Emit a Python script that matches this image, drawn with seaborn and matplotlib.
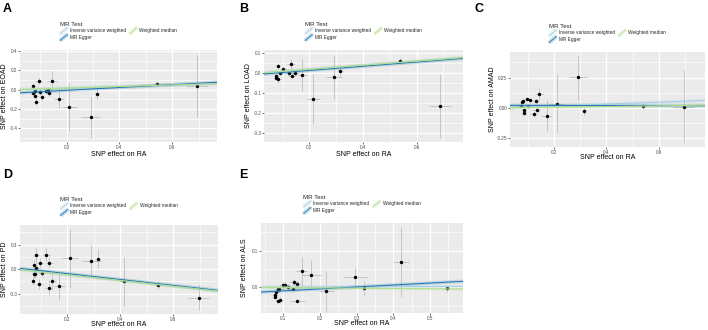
import numpy as np
import pandas as pd
import matplotlib
matplotlib.use("Agg")
import matplotlib.pyplot as plt
from matplotlib.lines import Line2D
from matplotlib.legend_handler import HandlerBase
from matplotlib.ticker import AutoMinorLocator
import seaborn as sns

# ---------------- data ----------------
method_names = ["Inverse variance weighted", "MR Egger", "Weighted median"]
method_colors = ["#a6cee3", "#1f78b4", "#b2df8a"]

panel_letters = ["A", "B", "C", "D", "E"]
outcomes = ["EOAD", "LOAD", "AMAD", "PD", "ALS"]
exposure_label = "SNP effect on RA"

A_x = [0.071, 0.094, 0.144, 0.071, 0.079, 0.081, 0.084, 0.098, 0.107, 0.122, 0.129, 0.133, 0.171, 0.210, 0.291, 0.314, 0.541, 0.694]
A_y = [0.038, 0.093, 0.093, -0.035, -0.017, -0.066, -0.125, -0.024, -0.073, -0.017, 0.000, -0.031, -0.093, -0.180, -0.284, -0.045, 0.055, 0.042]
A_sex = [0.008, 0.013, 0.019, 0.008, 0.008, 0.009, 0.009, 0.010, 0.011, 0.012, 0.013, 0.013, 0.020, 0.028, 0.035, 0.008, 0.010, 0.040]
A_sey = [0.03, 0.03, 0.10, 0.03, 0.03, 0.03, 0.035, 0.03, 0.03, 0.03, 0.03, 0.03, 0.10, 0.25, 0.21, 0.05, 0.02, 0.32]

B_x = [0.082, 0.133, 0.101, 0.075, 0.076, 0.084, 0.091, 0.123, 0.135, 0.148, 0.173, 0.214, 0.292, 0.316, 0.539, 0.688]
B_y = [0.038, 0.047, 0.022, -0.013, -0.022, -0.030, 0.003, 0.003, -0.012, 0.002, -0.008, -0.130, -0.018, 0.010, 0.060, -0.162]
B_sex = [0.009, 0.015, 0.011, 0.008, 0.008, 0.009, 0.010, 0.012, 0.013, 0.015, 0.020, 0.024, 0.030, 0.008, 0.010, 0.040]
B_sey = [0.015, 0.025, 0.010, 0.010, 0.010, 0.020, 0.010, 0.010, 0.010, 0.010, 0.080, 0.125, 0.110, 0.030, 0.015, 0.160]

C_x = [0.073, 0.080, 0.082, 0.096, 0.100, 0.108, 0.085, 0.086, 0.123, 0.132, 0.134, 0.144, 0.172, 0.211, 0.291, 0.316, 0.540, 0.694]
C_y = [0.019, 0.049, 0.055, 0.072, 0.014, 0.063, -0.014, -0.044, -0.050, 0.058, -0.017, 0.115, -0.063, 0.036, 0.252, -0.028, 0.019, 0.011]
C_sex = [0.008, 0.009, 0.009, 0.010, 0.010, 0.011, 0.009, 0.009, 0.012, 0.013, 0.013, 0.015, 0.022, 0.030, 0.035, 0.008, 0.010, 0.040]
C_sey = [0.010, 0.012, 0.012, 0.010, 0.012, 0.012, 0.015, 0.015, 0.020, 0.020, 0.020, 0.050, 0.126, 0.240, 0.185, 0.030, 0.025, 0.300]

D_x = [0.082, 0.121, 0.074, 0.083, 0.097, 0.132, 0.074, 0.079, 0.104, 0.069, 0.093, 0.143, 0.130, 0.170, 0.211, 0.291, 0.314, 0.415, 0.542, 0.696]
D_y = [0.167, 0.176, 0.049, 0.016, 0.078, 0.078, -0.061, -0.061, -0.053, -0.147, -0.188, -0.151, -0.233, -0.204, 0.131, 0.098, 0.127, -0.151, -0.192, -0.351]
D_sex = [0.009, 0.012, 0.008, 0.009, 0.010, 0.013, 0.008, 0.008, 0.011, 0.008, 0.010, 0.015, 0.013, 0.020, 0.030, 0.035, 0.010, 0.020, 0.010, 0.040]
D_sey = [0.09, 0.08, 0.06, 0.05, 0.06, 0.07, 0.05, 0.05, 0.05, 0.05, 0.06, 0.11, 0.08, 0.17, 0.36, 0.20, 0.12, 0.30, 0.05, 0.15]

E_x = [0.076, 0.076, 0.081, 0.085, 0.089, 0.086, 0.090, 0.099, 0.104, 0.112, 0.126, 0.129, 0.136, 0.138, 0.150, 0.176, 0.217, 0.296, 0.320, 0.421, 0.547]
E_y = [-0.022, -0.026, -0.013, -0.006, -0.006, -0.037, -0.035, 0.005, 0.007, 0.002, -0.005, 0.014, 0.010, -0.036, 0.043, 0.034, -0.011, 0.028, -0.003, 0.068, -0.003]
E_sex = [0.008, 0.008, 0.008, 0.009, 0.009, 0.009, 0.010, 0.010, 0.011, 0.012, 0.012, 0.013, 0.013, 0.020, 0.015, 0.028, 0.020, 0.032, 0.008, 0.023, 0.010]
E_sey = [0.005, 0.005, 0.005, 0.008, 0.008, 0.006, 0.008, 0.010, 0.008, 0.006, 0.006, 0.008, 0.008, 0.005, 0.040, 0.040, 0.055, 0.025, 0.020, 0.095, 0.010]

# MR estimates: intercepts and slopes per method (IVW, MR Egger, WM)
A_int = [0.0, -0.035, 0.0]; A_slope = [0.078, 0.145, 0.082]
B_int = [0.0, -0.006, 0.0]; B_slope = [0.098, 0.105, 0.102]
C_int = [0.0, 0.022, 0.0];  C_slope = [0.080, -0.004, 0.030]
D_int = [0.0, 0.015, 0.0];  D_slope = [-0.340, -0.360, -0.350]
E_int = [0.0, -0.015, 0.0]; E_slope = [0.004, 0.053, -0.008]

# axis ticks and limits
A_yticks = [-0.4, -0.2, 0.0, 0.2, 0.4]; A_yticklabels = ["-0.4", "-0.2", "0.0", "0.2", "0.4"]
B_yticks = [-0.3, -0.2, -0.1, 0.0, 0.1]; B_yticklabels = ["-0.3", "-0.2", "-0.1", "0.0", "0.1"]
C_yticks = [-0.25, 0.0, 0.25]; C_yticklabels = ["-0.25", "0.00", "0.25"]
D_yticks = [-0.3, 0.0, 0.3]; D_yticklabels = ["-0.3", "0.0", "0.3"]
E_yticks = [0.0, 0.1]; E_yticklabels = ["0.0", "0.1"]
ABCD_xticks = [0.2, 0.4, 0.6]; ABCD_xticklabels = ["0.2", "0.4", "0.6"]
E_xticks = [0.1, 0.2, 0.3, 0.4, 0.5]; E_xticklabels = ["0.1", "0.2", "0.3", "0.4", "0.5"]

A_xlim = (0.023, 0.770); A_ylim = (-0.54, 0.41)
B_xlim = (0.031, 0.773); B_ylim = (-0.343, 0.117)
C_xlim = (0.033, 0.775); C_ylim = (-0.32, 0.46)
D_xlim = (0.021, 0.769); D_ylim = (-0.551, 0.539)
E_xlim = (0.039, 0.590); E_ylim = (-0.070, 0.175)

# ---------------- style ----------------
sns.set_theme(style="darkgrid")
plt.rcParams["font.family"] = ["Liberation Sans", "DejaVu Sans"]
plt.rcParams["axes.unicode_minus"] = False
plt.rcParams["axes.facecolor"] = "#EBEBEB"
plt.rcParams["grid.color"] = "white"

W, H = 708, 330
fig = plt.figure(figsize=(W / 100, H / 100), dpi=100)
fig.patch.set_facecolor("white")

# axes rectangles in pixels: left, right, top, bottom
boxes = [(20, 217, 50, 142), (264, 463, 50, 142), (510, 705, 52, 147),
         (20, 218, 225, 314), (261, 463, 223, 313)]
letter_pos = [(3, 3), (239, 3), (475, 3), (3, 169), (239, 169)]
ylabel_px = [5, 248, 493, 5, 244]          # x centre of y label
xlabel_px = [154, 154, 157.5, 324.5, 323.5]  # y centre of x label


class DiagHandler(HandlerBase):
    def create_artists(self, legend, orig_handle, xdescent, ydescent,
                       width, height, fontsize, trans):
        x0, y0 = -xdescent, -ydescent
        c = orig_handle.get_color()
        band = Line2D([x0, x0 + width], [y0, y0 + height], color=c, lw=3.0,
                      alpha=0.25, transform=trans, solid_capstyle="butt")
        ln = Line2D([x0, x0 + width], [y0, y0 + height], color=c, lw=0.6,
                    transform=trans)
        return [band, ln]


panels = [
    (A_x, A_y, A_sex, A_sey, A_int, A_slope, A_yticks, A_yticklabels, ABCD_xticks, ABCD_xticklabels, A_xlim, A_ylim),
    (B_x, B_y, B_sex, B_sey, B_int, B_slope, B_yticks, B_yticklabels, ABCD_xticks, ABCD_xticklabels, B_xlim, B_ylim),
    (C_x, C_y, C_sex, C_sey, C_int, C_slope, C_yticks, C_yticklabels, ABCD_xticks, ABCD_xticklabels, C_xlim, C_ylim),
    (D_x, D_y, D_sex, D_sey, D_int, D_slope, D_yticks, D_yticklabels, ABCD_xticks, ABCD_xticklabels, D_xlim, D_ylim),
    (E_x, E_y, E_sex, E_sey, E_int, E_slope, E_yticks, E_yticklabels, E_xticks, E_xticklabels, E_xlim, E_ylim),
]

for i, (x, y, sex, sey, ints, slopes, yt, ytl, xt, xtl, xl, yl) in enumerate(panels):
    L, R, T, B = boxes[i]
    ax = fig.add_axes([L / W, 1 - B / H, (R - L) / W, (B - T) / H])
    df = pd.DataFrame({"x": x, "y": y, "sex": sex, "sey": sey})

    ax.vlines(df["x"], df["y"] - df["sey"], df["y"] + df["sey"], color="#BEBEBE", lw=0.6, zorder=2)
    ax.hlines(df["y"], df["x"] - df["sex"], df["x"] + df["sex"], color="#BEBEBE", lw=0.6, zorder=2)
    sns.scatterplot(data=df, x="x", y="y", ax=ax, color="black", s=6,
                    linewidth=0, zorder=3, legend=False)

    handles = []
    for name, col, a, b in zip(method_names, method_colors, ints, slopes):
        ax.axline((0, a), slope=b, color=col, lw=2.6, alpha=0.2, zorder=4,
                  solid_capstyle="butt")
        h = ax.axline((0, a), slope=b, color=col, lw=0.75, zorder=5, label=name)
        handles.append(h)

    ax.set_xlim(*xl)
    ax.set_ylim(*yl)
    ax.set_xticks(xt)
    ax.set_xticklabels(xtl)
    ax.set_yticks(yt)
    ax.set_yticklabels(ytl)
    ax.xaxis.set_minor_locator(AutoMinorLocator(2))
    ax.yaxis.set_minor_locator(AutoMinorLocator(2))
    ax.grid(which="major", color="white", lw=0.9)
    ax.grid(which="minor", color="white", lw=0.45)
    for s in ax.spines.values():
        s.set_visible(False)
    ax.tick_params(axis="both", which="major", length=1.5, width=0.5, color="#333333",
                   labelsize=3.3, labelcolor="#4D4D4D", pad=0.5, bottom=True, left=True)
    ax.tick_params(axis="both", which="minor", length=0)
    ax.set_xlabel(exposure_label, fontsize=5.0, color="black")
    ax.set_ylabel("SNP effect on " + outcomes[i], fontsize=5.0, color="black")
    ax.yaxis.set_label_coords((ylabel_px[i] - L) / (R - L), 0.5)
    ax.xaxis.set_label_coords(0.5, (B - xlabel_px[i]) / (B - T))
    ax.yaxis.label.set_va("center")
    ax.xaxis.label.set_va("center")

    ah = B - T
    leg = ax.legend(handles=handles, labels=method_names, loc="lower center",
                    bbox_to_anchor=(0.5, 1.0 + 7 / ah), ncol=2, frameon=False,
                    title="MR Test", fontsize=3.4, title_fontsize=4.4,
                    handlelength=1.6, handleheight=1.7, handletextpad=0.5,
                    columnspacing=0.7, labelspacing=0.05, borderpad=0,
                    alignment="left", handler_map={Line2D: DiagHandler()})

    lx, ly = letter_pos[i]
    fig.text(lx / W, 1 - ly / H, panel_letters[i], fontsize=9, fontweight="bold",
             va="top", ha="left", color="black")

fig.savefig("out.png", dpi=100, facecolor="white")
